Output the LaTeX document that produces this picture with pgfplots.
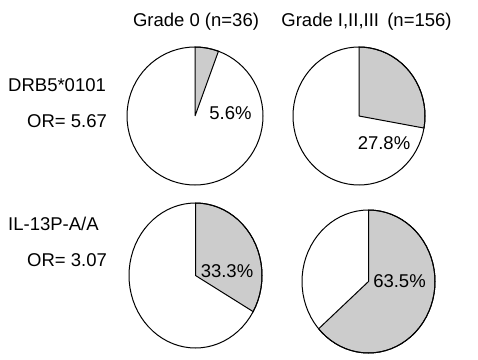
\documentclass[border=0pt]{standalone}
\usepackage{pgfplots}
\pgfplotsset{compat=1.18}
\usepackage{pgfplotstable}
\usepackage{fontspec}
\setmainfont{Liberation Sans}

\pgfplotstableread{
a r
0 1
5 1
10 1
15 1
20 1
25 1
30 1
35 1
40 1
45 1
50 1
55 1
60 1
65 1
70 1
75 1
80 1
85 1
90 1
95 1
100 1
105 1
110 1
115 1
120 1
125 1
130 1
135 1
140 1
145 1
150 1
155 1
160 1
165 1
170 1
175 1
180 1
185 1
190 1
195 1
200 1
205 1
210 1
215 1
220 1
225 1
230 1
235 1
240 1
245 1
250 1
255 1
260 1
265 1
270 1
275 1
280 1
285 1
290 1
295 1
300 1
305 1
310 1
315 1
320 1
325 1
330 1
335 1
340 1
345 1
350 1
355 1
360 1
}\unitcircle

\definecolor{wedge}{gray}{0.80}

\pgfplotsset{
  pie/.style={scale only axis, hide axis, clip=false, anchor=center,
    xmin=-1, xmax=1, ymin=-1, ymax=1},
  disk/.style={data cs=polar, draw=none, fill=white, mark=none},
  rim/.style={data cs=polar, draw=black, line width=1pt, mark=none},
  slice/.style={data cs=polar, draw=black, line width=1pt, fill=wedge, mark=none, line join=miter},
}

\begin{document}
\begin{tikzpicture}[every node/.style={font=\fontsize{18.5}{22}\selectfont, inner sep=0pt}]
\path[use as bounding box] (0,0) rectangle (478pt,359pt);

% Top-left: 5.6%
\begin{axis}[pie, at={(195pt,243pt)}, width=136pt, height=138pt]
\addplot[disk] table[x=a,y=r] {\unitcircle};
\addplot[slice] coordinates {(0,0) (90,1) (85,1) (80,1) (75,1) (70,1) (69.84,1) (0,0)};
\addplot[rim] table[x=a,y=r] {\unitcircle};
\end{axis}

% Top-right: 27.8%
\begin{axis}[pie, at={(359pt,243pt)}, width=132pt, height=138pt]
\addplot[disk] table[x=a,y=r] {\unitcircle};
\addplot[slice] coordinates {(0,0) (90,1) (85,1) (80,1) (75,1) (70,1) (65,1) (60,1) (55,1) (50,1) (45,1) (40,1) (35,1) (30,1) (25,1) (20,1) (15,1) (10,1) (5,1) (0,1) (-5,1) (-10,1) (-10.08,1) (0,0)};
\addplot[rim] table[x=a,y=r] {\unitcircle};
\end{axis}

% Bottom-left: 33.3%
\begin{axis}[pie, at={(195.5pt,83.5pt)}, width=133pt, height=145pt]
\addplot[disk] table[x=a,y=r] {\unitcircle};
\addplot[slice] coordinates {(0,0) (90,1) (85,1) (80,1) (75,1) (70,1) (65,1) (60,1) (55,1) (50,1) (45,1) (40,1) (35,1) (30,1) (25,1) (20,1) (15,1) (10,1) (5,1) (0,1) (-5,1) (-10,1) (-15,1) (-20,1) (-25,1) (-29.88,1) (0,0)};
\addplot[rim] table[x=a,y=r] {\unitcircle};
\end{axis}

% Bottom-right: 63.5%
\begin{axis}[pie, at={(368.5pt,77.5pt)}, width=133pt, height=143pt]
\addplot[disk] table[x=a,y=r] {\unitcircle};
\addplot[slice] coordinates {(0,0) (90,1) (85,1) (80,1) (75,1) (70,1) (65,1) (60,1) (55,1) (50,1) (45,1) (40,1) (35,1) (30,1) (25,1) (20,1) (15,1) (10,1) (5,1) (0,1) (-5,1) (-10,1) (-15,1) (-20,1) (-25,1) (-30,1) (-35,1) (-40,1) (-45,1) (-50,1) (-55,1) (-60,1) (-65,1) (-70,1) (-75,1) (-80,1) (-85,1) (-90,1) (-95,1) (-100,1) (-105,1) (-110,1) (-115,1) (-120,1) (-125,1) (-130,1) (-135,1) (-138.6,1) (0,0)};
\addplot[rim] table[x=a,y=r] {\unitcircle};
\end{axis}

% Column titles
\node[anchor=base] at (196pt,332.3pt) {Grade 0 (n=36)};
\node[anchor=base] at (366.5pt,332.3pt) {Grade I,II,III\, (n=156)};

% Row labels
\node[anchor=base west] at (8pt,267pt) {DRB5*0101};
\node[anchor=base west] at (27pt,231pt) {OR= 5.67};
\node[anchor=base west] at (8pt,129pt) {IL-13P-A/A};
\node[anchor=base west] at (27pt,93pt) {OR= 3.07};

% Percentages
\node[anchor=base] at (230.5pt,239pt) {5.6\%};
\node[anchor=base] at (384pt,209pt) {27.8\%};
\node[anchor=base] at (227pt,82pt) {33.3\%};
\node[anchor=base] at (399.5pt,72pt) {63.5\%};
\end{tikzpicture}
\end{document}
